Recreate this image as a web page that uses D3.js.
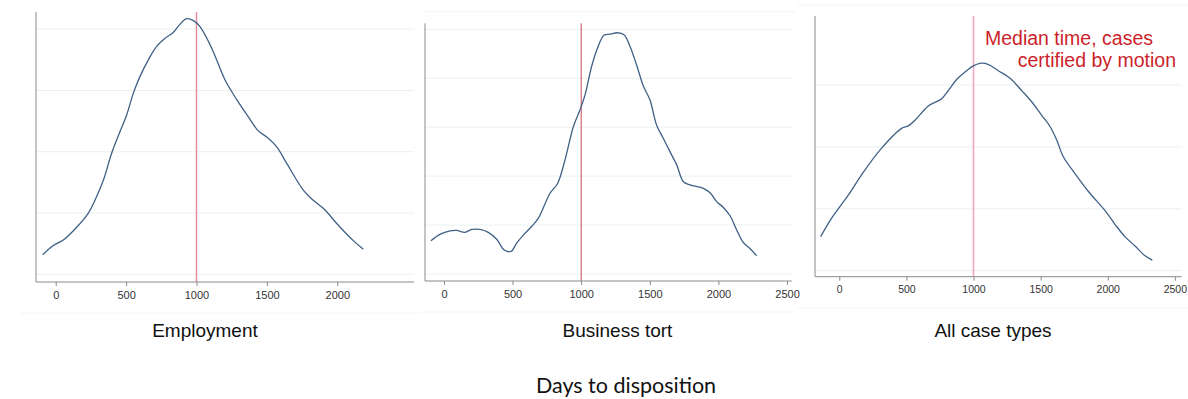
<!DOCTYPE html>
<html>
<head>
<meta charset="utf-8">
<script src="https://cdn.jsdelivr.net/npm/d3@7"></script>
<style>
  html, body { margin: 0; padding: 0; background: #fff; }
  svg { display: block; }
</style>
</head>
<body>
<svg id="chart" width="1188" height="399"></svg>
<script>
// ---------------- DATA ----------------
const panelTitles = ["Employment", "Business tort", "All case types"];
const xTickValues = [0, 500, 1000, 1500, 2000, 2500];
const medianDays = 1000;
const xAxisTitle = "Days to disposition";
const annotationLines = ["Median time, cases", "certified by motion"];

// Employment: days vs density (arbitrary units, gridlines at integers)
const employmentDays = [-92, -17, 54, 137, 232, 279, 339, 398, 457, 504, 552, 599, 658, 717, 776, 836, 871, 930, 978, 1025, 1108, 1203, 1286, 1380, 1439, 1499, 1570, 1641, 1760, 1819, 1913, 1996, 2114, 2185];
const employmentDensity = [0.32, 0.47, 0.56, 0.74, 1.00, 1.21, 1.54, 1.98, 2.33, 2.60, 2.96, 3.23, 3.50, 3.72, 3.85, 3.95, 4.05, 4.17, 4.14, 4.04, 3.69, 3.17, 2.85, 2.53, 2.34, 2.24, 2.08, 1.81, 1.37, 1.23, 1.05, 0.83, 0.55, 0.41];

// Business tort
const businessDays = [-95, -29, 44, 92, 153, 202, 262, 323, 384, 440, 488, 530, 590, 639, 688, 773, 828, 882, 943, 991, 1028, 1076, 1118, 1166, 1210, 1263, 1312, 1356, 1404, 1453, 1501, 1550, 1599, 1647, 1696, 1744, 1793, 1890, 1939, 1987, 2036, 2085, 2133, 2182, 2230, 2279];
const businessDensity = [0.68, 0.81, 0.88, 0.89, 0.85, 0.91, 0.91, 0.85, 0.71, 0.49, 0.46, 0.63, 0.83, 0.97, 1.14, 1.65, 1.85, 2.33, 3.01, 3.35, 3.66, 4.24, 4.61, 4.88, 4.90, 4.93, 4.89, 4.65, 4.27, 3.84, 3.56, 3.04, 2.77, 2.50, 2.23, 1.89, 1.82, 1.75, 1.66, 1.48, 1.36, 1.19, 0.90, 0.64, 0.52, 0.37];

// All case types
const allDays = [-139, -57, 67, 166, 315, 464, 514, 564, 663, 763, 812, 874, 936, 999, 1048, 1085, 1123, 1185, 1272, 1359, 1433, 1508, 1570, 1620, 1669, 1756, 1856, 1980, 2054, 2128, 2203, 2278, 2332];
const allDensity = [0.55, 0.85, 1.22, 1.55, 1.98, 2.30, 2.34, 2.43, 2.66, 2.78, 2.91, 3.09, 3.21, 3.31, 3.35, 3.35, 3.32, 3.23, 3.11, 2.91, 2.73, 2.51, 2.33, 2.11, 1.84, 1.57, 1.28, 0.97, 0.75, 0.55, 0.40, 0.24, 0.17];

const gridEmployment = [0, 1, 2, 3, 4];
const gridBusiness = [0, 1, 2, 3, 4, 5];
const gridAll = [0, 1, 2, 3];

// ---------------- LAYOUT ----------------
const panels = [
  { title: panelTitles[0], days: employmentDays, dens: employmentDensity, grid: gridEmployment,
    ticks: [0, 500, 1000, 1500, 2000],
    left: 36, right: 414, top: 12, bottom: 282, xDom: [-140, 2545], yDom: [-0.125, 4.28],
    medianColor: "#e68a9e", medianWidth: 1.4, tickFont: 11, labelOff: 13,
    titleX: 205, bgTop: null, bgBottom: 313, bgL: 20, bgR: 420 },
  { title: panelTitles[1], days: businessDays, dens: businessDensity, grid: gridBusiness,
    ticks: xTickValues,
    left: 425, right: 791.7, top: 23.3, bottom: 281, xDom: [-138, 2534], yDom: [-0.143, 5.123],
    medianColor: "#c9485c", medianWidth: 1, tickFont: 11, labelOff: 12.5,
    titleX: 617.5, bgTop: 11.7, bgBottom: 312, bgL: 423, bgR: 795 },
  { title: panelTitles[2], days: allDays, dens: allDensity, grid: gridAll,
    ticks: xTickValues,
    left: 815, right: 1181.7, top: 16, bottom: 276.7, xDom: [-181, 2551], yDom: [-0.097, 4.115],
    medianColor: "#eeaabb", medianWidth: 1.6, tickFont: 10.5, labelOff: 12.5,
    titleX: 993, bgTop: 5, bgBottom: 308, bgL: 797, bgR: 1188, annotate: true }
];

const svg = d3.select("#chart");
const sans = "'Liberation Sans', Arial, Helvetica, sans-serif";

panels.forEach(p => {
  const x = d3.scaleLinear().domain(p.xDom).range([p.left, p.right]);
  const y = d3.scaleLinear().domain(p.yDom).range([p.bottom, p.top]);
  const g = svg.append("g");

  // faint plot-region separators
  if (p.bgTop !== null) {
    g.append("line").attr("x1", p.bgL).attr("x2", p.bgR).attr("y1", p.bgTop).attr("y2", p.bgTop)
      .attr("stroke", "#f2f4f4").attr("stroke-width", 1);
  }
  g.append("line").attr("x1", p.bgL).attr("x2", p.bgR).attr("y1", p.bgBottom).attr("y2", p.bgBottom)
    .attr("stroke", "#f2f4f4").attr("stroke-width", 1);

  // gridlines
  g.selectAll("line.grid").data(p.grid).join("line")
    .attr("class", "grid")
    .attr("x1", p.left).attr("x2", p.right)
    .attr("y1", d => y(d)).attr("y2", d => y(d))
    .attr("stroke", "#e9f1f1").attr("stroke-width", 1);

  // median line
  g.append("line")
    .attr("x1", x(medianDays)).attr("x2", x(medianDays))
    .attr("y1", p.top).attr("y2", p.bottom)
    .attr("stroke", p.medianColor).attr("stroke-width", p.medianWidth);

  // density curve
  const pts = p.days.map((d, i) => [d, p.dens[i]]);
  g.append("path")
    .datum(pts)
    .attr("fill", "none")
    .attr("stroke", "#3f6186")
    .attr("stroke-width", 1.3)
    .attr("d", d3.line().x(d => x(d[0])).y(d => y(d[1])).curve(d3.curveCatmullRom.alpha(0.5)));

  // y axis line (no labels)
  g.append("line").attr("x1", p.left).attr("x2", p.left).attr("y1", p.top).attr("y2", p.bottom)
    .attr("stroke", "#8a8a8a").attr("stroke-width", 1);

  // x axis
  const xa = g.append("g").attr("transform", `translate(0,${p.bottom})`)
    .call(d3.axisBottom(x).tickValues(p.ticks).tickFormat(d3.format("d"))
      .tickSize(4).tickPadding(3).tickSizeOuter(0));
  xa.select(".domain").attr("stroke", "#8a8a8a").attr("d", `M${p.left},0H${p.right}`);
  xa.selectAll(".tick line").attr("stroke", "#8a8a8a");
  xa.selectAll(".tick text")
    .attr("font-family", sans).attr("font-size", p.tickFont).attr("fill", "#333")
    .attr("dy", null).attr("y", p.labelOff).attr("dominant-baseline", "central");

  // panel title
  g.append("text")
    .attr("x", p.titleX).attr("y", 337)
    .attr("text-anchor", "middle")
    .attr("font-family", sans).attr("font-size", 19).attr("fill", "#111")
    .text(p.title);

  if (p.annotate) {
    g.append("text").attr("x", 1153).attr("y", 45).attr("text-anchor", "end")
      .attr("font-family", sans).attr("font-size", 19.5).attr("fill", "#cc1f2a")
      .text(annotationLines[0]);
    g.append("text").attr("x", 1176).attr("y", 67).attr("text-anchor", "end")
      .attr("font-family", sans).attr("font-size", 19.5).attr("fill", "#cc1f2a")
      .text(annotationLines[1]);
  }
});

svg.append("text")
  .attr("x", 626).attr("y", 393)
  .attr("text-anchor", "middle")
  .attr("font-family", "Lato, 'Open Sans', sans-serif").attr("font-size", 21.5).attr("fill", "#111")
  .text(xAxisTitle);
</script>
</body>
</html>
